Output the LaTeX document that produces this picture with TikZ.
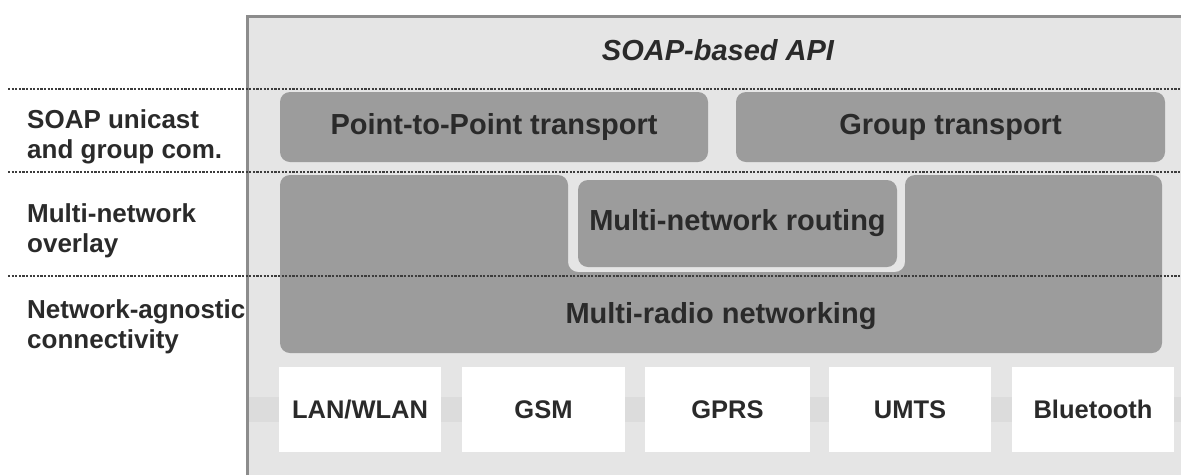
\documentclass[tikz,border=0pt]{standalone}
\usepackage{fontspec}
\setmainfont{Liberation Sans}
\definecolor{outerfill}{HTML}{E5E5E5}
\definecolor{boxgray}{HTML}{9C9C9C}
\definecolor{txt}{HTML}{2A2A2A}
\definecolor{dotcol}{HTML}{3C3C3C}
\definecolor{bandcol}{HTML}{DCDCDC}
\begin{document}
\begin{tikzpicture}[x=1pt,y=-1pt,
  layerbox/.style={draw=none, fill=boxgray, rounded corners=10pt, text=txt,
    font=\bfseries\fontsize{29}{34}\selectfont, inner sep=0pt},
  radiobox/.style={draw=none, fill=white, text=txt, minimum width=162pt, minimum height=85pt,
    font=\bfseries\fontsize{25.5}{30}\selectfont, inner sep=0pt},
  sidelabel/.style={anchor=base west, align=left, text=txt, inner sep=0pt,
    font=\bfseries\fontsize{26}{30}\selectfont},
  sepline/.style={draw=dotcol, line width=2.6pt, dash pattern=on 2.2pt off 1.4pt}]
\useasboundingbox (0,0) rectangle (1181,475);
% outer container
\fill[outerfill] (247,15) rectangle (1181,475);
\fill[bandcol] (249,397) rectangle (1181,422);
\draw[draw=black!45, line width=3pt] (247.5,475) -- (247.5,16.5) -- (1181,16.5);
\node[text=txt, font=\bfseries\itshape\fontsize{29}{34}\selectfont] (api) at (718,50) {SOAP-based API};
% transport layer
\node[layerbox, minimum width=428pt, minimum height=70pt] (p2p) at (494,127) {Point-to-Point transport};
\node[layerbox, minimum width=429pt, minimum height=70pt] (grp) at (950.5,127) {Group transport};
% overlay + networking (U shape)
\fill[boxgray, rounded corners=10pt] (280,175) -- (568,175) -- (568,272) -- (905,272) -- (905,175)
  -- (1162,175) -- (1162,353) -- (280,353) -- cycle;
\node[layerbox, minimum width=319pt, minimum height=87pt] (route) at (737.5,223.5) {Multi-network routing};
\node[text=txt, font=\bfseries\fontsize{29}{34}\selectfont, inner sep=0pt] (radio) at (721,316) {Multi-radio networking};
% radios
\node[radiobox] (lan) at (360,409.5) {LAN/WLAN};
\node[radiobox, minimum width=163pt] (gsm) at (543.5,409.5) {GSM};
\node[radiobox, minimum width=165pt] (gprs) at (727.5,409.5) {GPRS};
\node[radiobox] (umts) at (910,409.5) {UMTS};
\node[radiobox] (bt) at (1093,409.5) {Bluetooth};
% separators
\coordinate (s1a) at (8,89);  \coordinate (s1b) at (1181,89);
\coordinate (s2a) at (8,172); \coordinate (s2b) at (1181,172);
\coordinate (s3a) at (8,276); \coordinate (s3b) at (1181,276);
\draw[sepline] (s1a) -- (s1b);
\draw[sepline] (s2a) -- (s2b);
\draw[sepline] (s3a) -- (s3b);
% side labels (base anchor = baseline of the last line)
\node[sidelabel] (l1) at (27,158) {SOAP unicast\\and group com.};
\node[sidelabel] (l2) at (27,252) {Multi-network\\overlay};
\node[sidelabel] (l3) at (27,348) {Network-agnostic\\connectivity};
\end{tikzpicture}
\end{document}
